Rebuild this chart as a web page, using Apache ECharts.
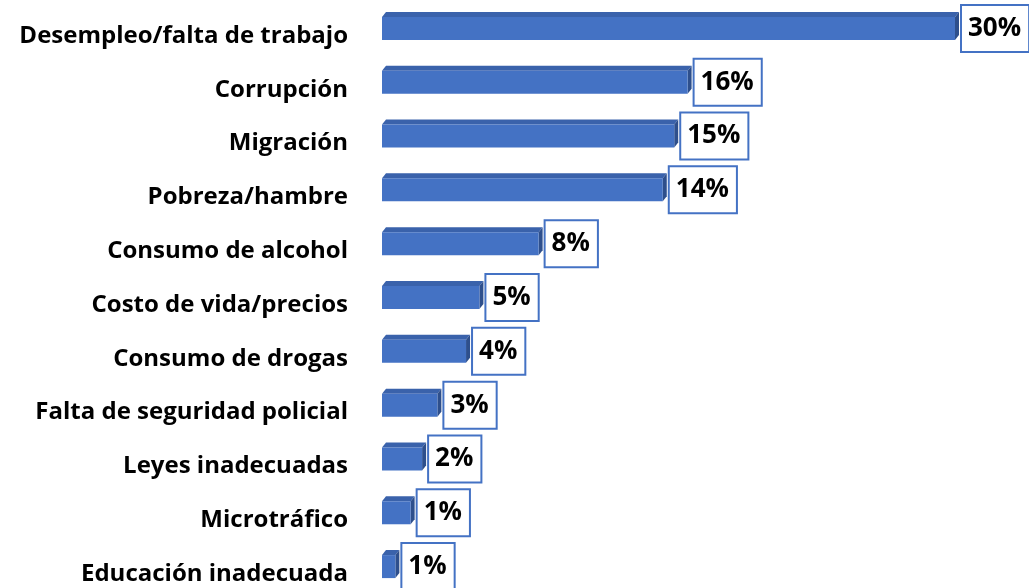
<!DOCTYPE html>
<html>
	<head>
		<meta charset="UTF-8">
		<title>Problemas</title>
		<script src="https://cdn.jsdelivr.net/npm/echarts@6/dist/echarts.min.js"></script>
		<style>
			html, body {margin: 0; padding: 0; background: #fff;}
			#chart {width: 1029px; height: 588px;}
		</style>
	</head>
	<body>
		<div id="chart"></div>
		<script>
			// data
			const categories = [
				'Desempleo/falta de trabajo', 'Corrupción', 'Migración', 'Pobreza/hambre',
				'Consumo de alcohol', 'Costo de vida/precios', 'Consumo de drogas',
				'Falta de seguridad policial', 'Leyes inadecuadas', 'Microtráfico', 'Educación inadecuada'
			];
			const values = [30, 16, 15.3, 14.7, 8.2, 5.1, 4.4, 2.9, 2.1, 1.5, 0.7];
			const valueLabels = ['30%', '16%', '15%', '14%', '8%', '5%', '4%', '3%', '2%', '1%', '1%'];

			const FONT = '"Open Sans", "Noto Sans", sans-serif';
			const frontColor = '#4472C4', topColor = '#3A62AB', sideColor = '#2E4F8C';
			const BAR_SHIFT = -7.5; // bars sit a bit above the category text

			function renderBar(params, api) {
				const v = api.value(0), i = api.value(1);
				const s = api.coord([0, i]);
				const e = api.coord([v, i]);
				const h = 23, dx = 4, dy = 5;
				const x0 = s[0], x1 = e[0];
				const cy = s[1] + BAR_SHIFT;
				const y0 = cy - h / 2;
				return {
					type: 'group',
					children: [
						{type: 'polygon', shape: {points: [[x0, y0], [x0 + dx, y0 - dy], [x1 + dx, y0 - dy], [x1, y0]]}, style: {fill: topColor}},
						{type: 'polygon', shape: {points: [[x1, y0], [x1 + dx, y0 - dy], [x1 + dx, y0 + h - dy], [x1, y0 + h]]}, style: {fill: sideColor}},
						{type: 'rect', shape: {x: x0, y: y0, width: x1 - x0, height: h}, style: {fill: frontColor}},
						{type: 'text', x: x1 + dx + 3, y: cy, style: {
							text: valueLabels[params.dataIndex], fill: '#000', font: 'bold 26px ' + FONT,
							verticalAlign: 'middle', align: 'left', lineHeight: 30,
							backgroundColor: '#fff', borderColor: frontColor, borderWidth: 2,
							padding: [11, 7, 4, 6]
						}}
					]
				};
			}

			const chart = echarts.init(document.getElementById('chart'));
			chart.setOption({
				animation: false,
				grid: {left: 382, width: 573, top: 9, height: 592, outerBoundsMode: 'none', containLabel: false},
				xAxis: {type: 'value', min: 0, max: 30, show: false},
				yAxis: {
					type: 'category', data: categories, inverse: true,
					axisLine: {show: false}, axisTick: {show: false},
					axisLabel: {color: '#000', fontWeight: 'bold', fontSize: 24, fontFamily: FONT, margin: 34}
				},
				series: [{
					type: 'custom',
					renderItem: renderBar,
					encode: {x: 0, y: 1},
					data: values.map((v, i) => [v, i])
				}]
			});
		</script>
	</body>
</html>
